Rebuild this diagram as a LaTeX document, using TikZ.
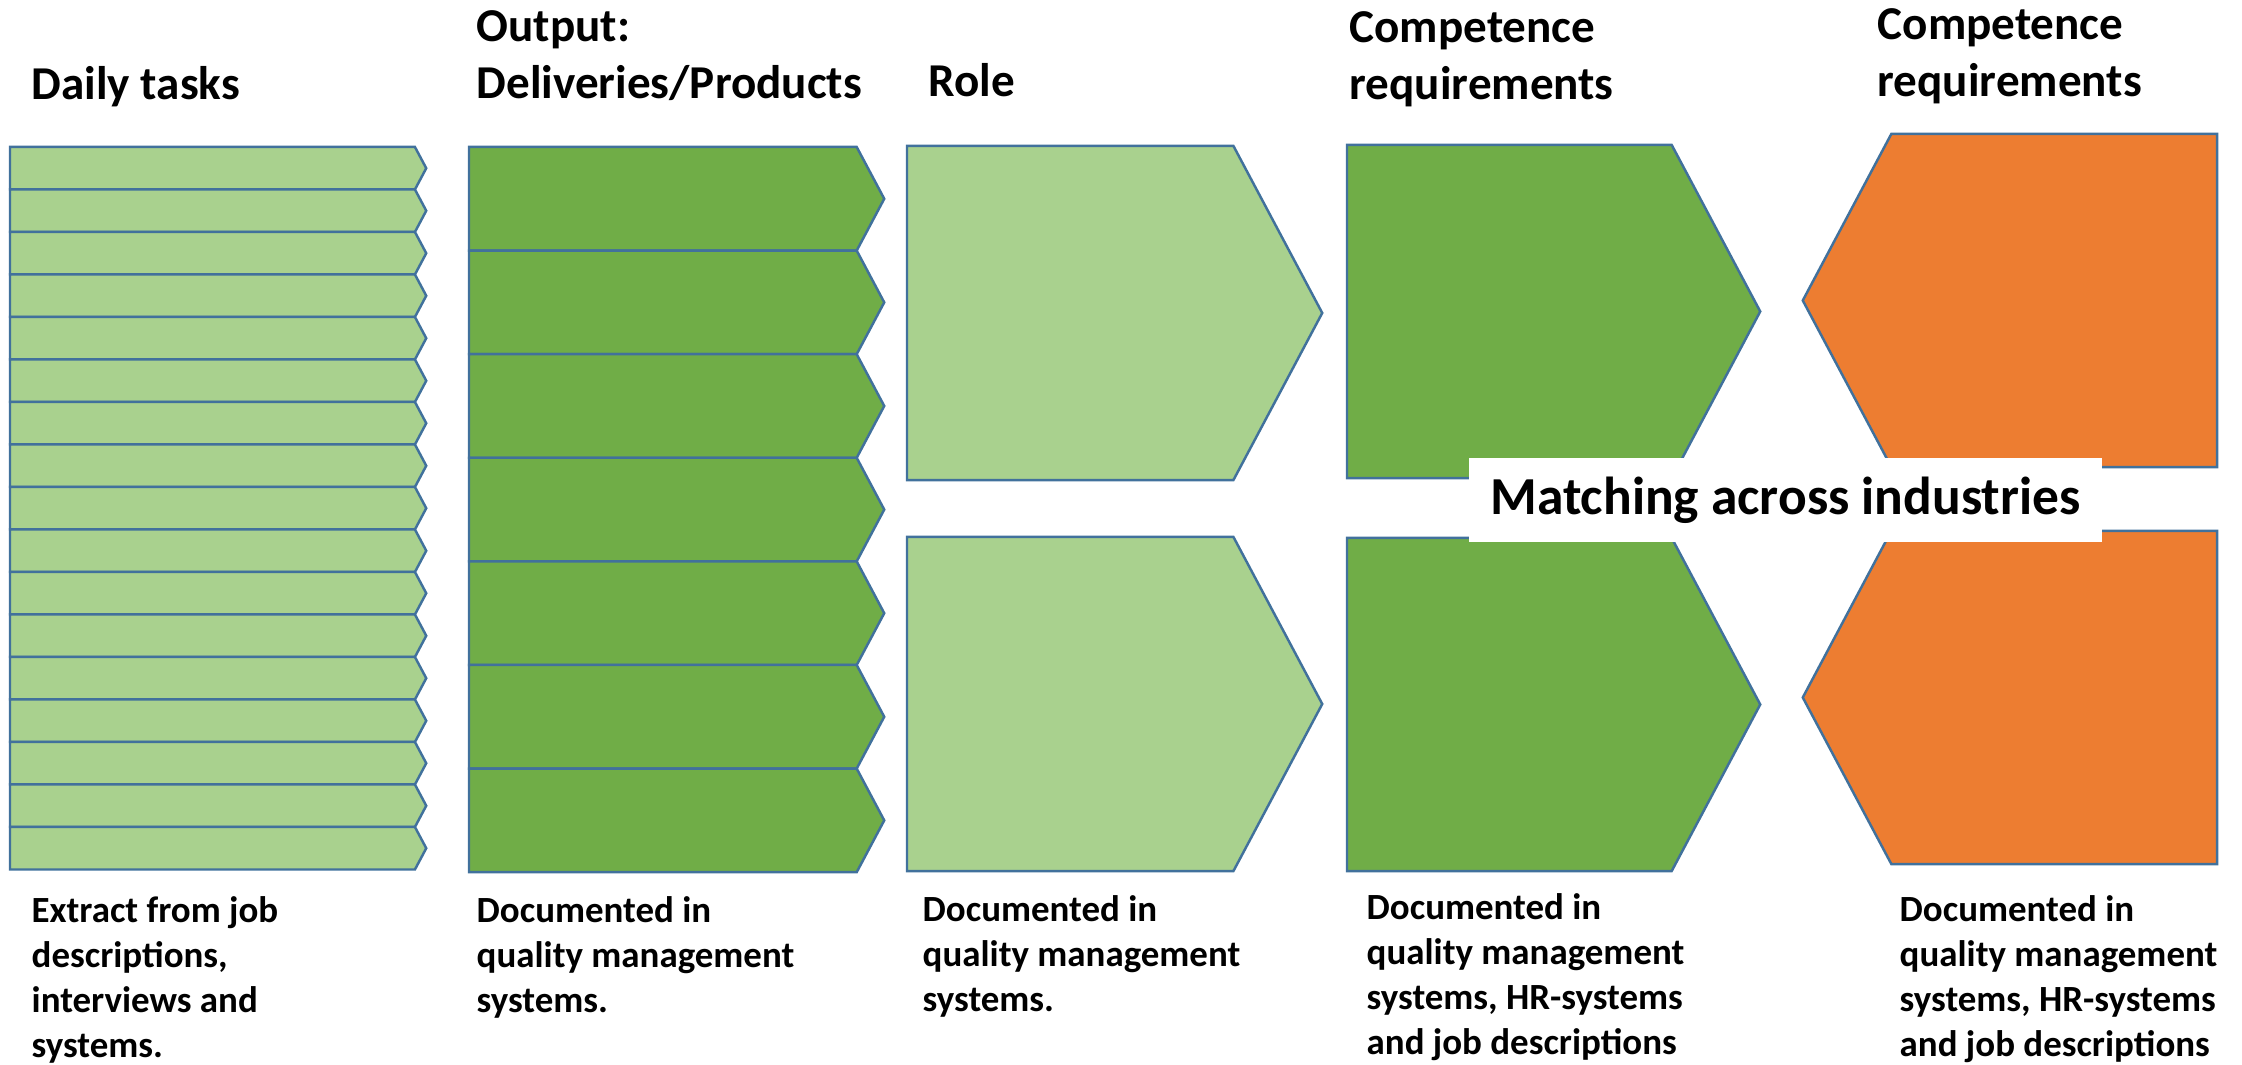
\documentclass[tikz,border=0pt]{standalone}
\usepackage{fontspec}
\setmainfont{Carlito}
\usetikzlibrary{shapes.symbols}

\definecolor{palegreen}{HTML}{A9D18E}
\definecolor{leafgreen}{HTML}{70AD47}
\definecolor{tangerine}{HTML}{ED7D31}
\definecolor{edgeblue}{HTML}{41719C}

\tikzstyle{chevron}=[signal,signal to=east,signal pointer angle=124,draw=edgeblue,line width=0.7pt,inner sep=0pt,outer sep=0pt,anchor=west]
\tikzstyle{task}=[chevron,fill=palegreen,minimum width=4.16cm,minimum height=0.425cm]
\tikzstyle{product}=[chevron,fill=leafgreen,minimum width=4.15cm,minimum height=1.036cm]
\tikzstyle{role}=[chevron,fill=palegreen,minimum width=4.15cm,minimum height=3.34cm]
\tikzstyle{skill}=[chevron,fill=leafgreen,minimum width=4.13cm,minimum height=3.33cm]
\tikzstyle{demand}=[chevron,signal to=west,fill=tangerine,minimum width=4.14cm,minimum height=3.33cm,anchor=east]
\tikzstyle{heading}=[inner sep=0pt,anchor=base west,align=left,font=\bfseries\fontsize{13.4}{16.4}\selectfont]
\tikzstyle{note}=[inner sep=0pt,anchor=base west,align=left,font=\bfseries\fontsize{10.5}{12.8}\selectfont]
\tikzstyle{banner}=[fill=white,inner sep=0pt,minimum width=6.33cm,minimum height=0.84cm,font=\bfseries\fontsize{15.2}{18}\selectfont]

\begin{document}
\begin{tikzpicture}[x=0.01cm,y=-0.01cm]
	\useasboundingbox (0,0) rectangle (2242,1065);
	%Daily tasks, thin stripes
	\foreach \i in {1,...,17}
		\node[task] (task\i) at (10,{147+42.5*(\i-0.5)}) {};
	%Deliveries
	\foreach \i in {1,...,7}
		\node[product] (out\i) at (469,{147+103.6*(\i-0.5)}) {};
	%Roles and competences
	\node[role] (role1) at (907,313) {};
	\node[role] (role2) at (907,704) {};
	\node[skill] (comp1) at (1347,311.5) {};
	\node[skill] (comp2) at (1347,704.5) {};
	\node[demand] (req1) at (2217,300.5) {};
	\node[demand] (req2) at (2217,697.5) {};
	\node[banner] (match) at (1785.5,500) {Matching across industries};
	%Headings (base = last line)
	\node[heading] (hd1) at (31,100) {Daily tasks};
	\node[heading] (hd2) at (476,99) {Output:\\Deliveries/Products};
	\node[heading] (hd3) at (928,97) {Role};
	\node[heading] (hd4) at (1349,100) {Competence\\requirements};
	\node[heading] (hd5) at (1877,97) {Competence\\requirements};
	%Sources
	\node[note] (src1) at (31,1058) {Extract from job\\descriptions,\\interviews and\\systems.};
	\node[note] (src2) at (476,1013) {Documented in\\quality management\\systems.};
	\node[note] (src3) at (922,1012) {Documented in\\quality management\\systems.};
	\node[note] (src4) at (1366,1055) {Documented in\\quality management\\systems, HR-systems\\and job descriptions};
	\node[note] (src5) at (1899,1057) {Documented in\\quality management\\systems, HR-systems\\and job descriptions};
\end{tikzpicture}
\end{document}
